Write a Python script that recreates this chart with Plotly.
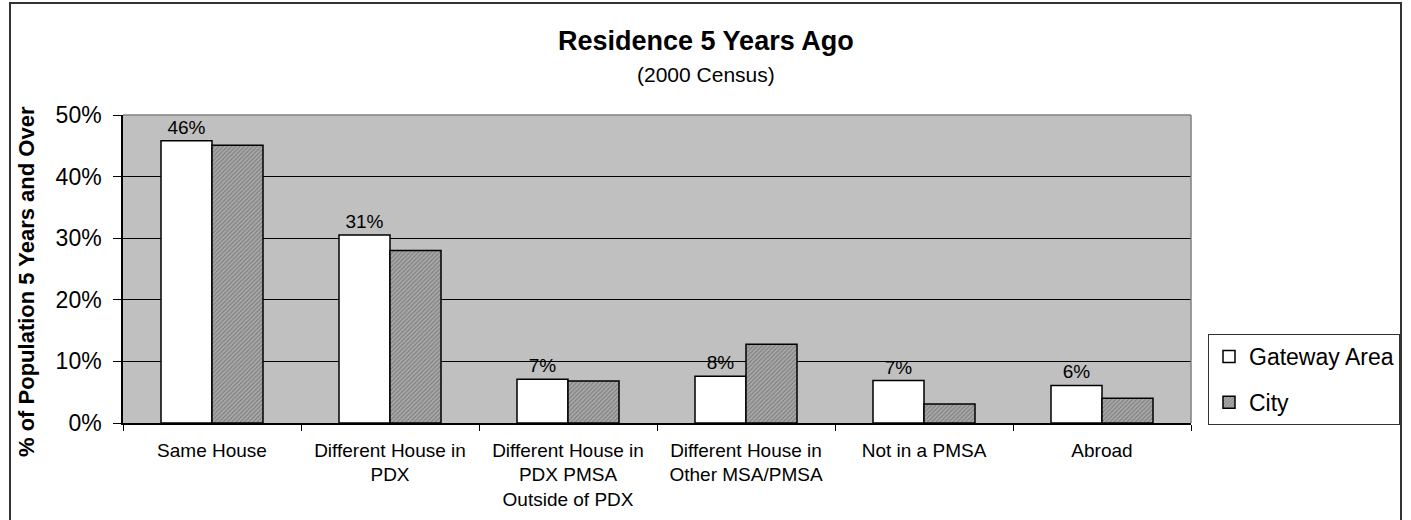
import plotly.graph_objects as go

# ---- data ----
categories = [
    "Same House",
    "Different House in<br>PDX",
    "Different House in<br>PDX PMSA<br>Outside of PDX",
    "Different House in<br>Other MSA/PMSA",
    "Not in a PMSA",
    "Abroad",
]
gateway = [45.8, 30.5, 7.1, 7.6, 6.9, 6.1]
city = [45.1, 28.0, 6.8, 12.8, 3.1, 4.0]
series_names = ["Gateway Area", "City"]
y_tick_vals = [0, 10, 20, 30, 40, 50]
y_tick_text = ["0%", "10%", "20%", "30%", "40%", "50%"]

title_text = "Residence 5 Years Ago"
subtitle_text = "(2000 Census)"
y_title = "% of Population 5 Years and Over"

# ---- layout geometry (pixels) ----
W, H = 1411, 520
L, R, T, B = 123, 1191, 115, 423
FONT = "Liberation Sans, Arial, sans-serif"


def px_x(p):
    return (p - L) / (R - L)


def px_y(p):
    return (B - p) / (B - T)


fig = go.Figure()
fig.add_trace(go.Bar(
    x=categories, y=gateway, name=series_names[0], legendgroup="g1",
    marker=dict(color="white", line=dict(color="black", width=1.5)),
    texttemplate="%{y:.0f}%", textposition="outside",
    textfont=dict(size=19, color="black", family=FONT),
    cliponaxis=False,
))
fig.add_trace(go.Bar(
    x=categories, y=city, name=series_names[1], legendgroup="g2",
    marker=dict(
        color="#9a9a9a",
        line=dict(color="black", width=1.5),
        pattern=dict(shape="/", fgcolor="#404040", bgcolor="#a8a8a8",
                     size=3, solidity=0.3, fillmode="overlay"),
    ),
))

fig.update_layout(
    width=W, height=H,
    margin=dict(l=L, r=W - R, t=T, b=H - B, autoexpand=False),
    paper_bgcolor="white",
    plot_bgcolor="#c0c0c0",
    font=dict(family=FONT, color="black"),
    barmode="group",
    bargap=0.427,
    bargroupgap=0,
    showlegend=True,
    legend=dict(
        x=px_x(1208), xanchor="left",
        y=px_y(425), yanchor="bottom",
        bgcolor="white", bordercolor="#333333", borderwidth=1,
        font=dict(size=23, family=FONT, color="black"),
        tracegroupgap=13,
        itemwidth=30,
    ),
    xaxis=dict(
        type="category",
        tickson="boundaries",
        ticks="outside", ticklen=6, tickcolor="black", tickwidth=1,
        showline=True, linecolor="black", linewidth=1.5,
        tickfont=dict(size=19, family=FONT, color="black"),
        ticklabelstandoff=9,
        showgrid=False,
    ),
    yaxis=dict(
        range=[0, 50],
        tickvals=y_tick_vals, ticktext=y_tick_text,
        ticks="outside", ticklen=8, tickcolor="black", tickwidth=1,
        showline=True, linecolor="black", linewidth=1.5,
        showgrid=True, gridcolor="black", gridwidth=1,
        zeroline=False,
        ticklabelstandoff=7,
        tickfont=dict(size=23, family=FONT, color="black"),
    ),
    annotations=[
        dict(text="<b>" + title_text + "</b>", xref="paper", yref="paper",
             x=px_x(706), y=px_y(41), xanchor="center", yanchor="middle",
             showarrow=False, font=dict(size=27, family=FONT, color="black")),
        dict(text=subtitle_text, xref="paper", yref="paper",
             x=px_x(706), y=px_y(75), xanchor="center", yanchor="middle",
             showarrow=False, font=dict(size=21, family=FONT, color="black")),
        dict(text="<b>" + y_title + "</b>", xref="paper", yref="paper",
             x=px_x(26), y=px_y(282), xanchor="center", yanchor="middle",
             textangle=-90, showarrow=False,
             font=dict(size=22, family=FONT, color="black")),
    ],
    shapes=[
        # outer chart frame
        dict(type="rect", xref="paper", yref="paper",
             x0=px_x(10), x1=px_x(1401), y0=px_y(535), y1=px_y(3),
             line=dict(color="#333333", width=2), fillcolor="rgba(0,0,0,0)",
             layer="below"),
        # plot area top / right border (gray)
        dict(type="line", xref="paper", yref="paper", x0=0, x1=1, y0=1, y1=1,
             line=dict(color="#808080", width=1.5), layer="above"),
        dict(type="line", xref="paper", yref="paper", x0=1, x1=1, y0=0, y1=1,
             line=dict(color="#808080", width=1.5), layer="above"),
    ],
)

fig.write_html(
    "out.html",
    config={"displayModeBar": False},
    post_script="document.body.style.margin='0px';document.body.style.overflow='hidden';",
)
